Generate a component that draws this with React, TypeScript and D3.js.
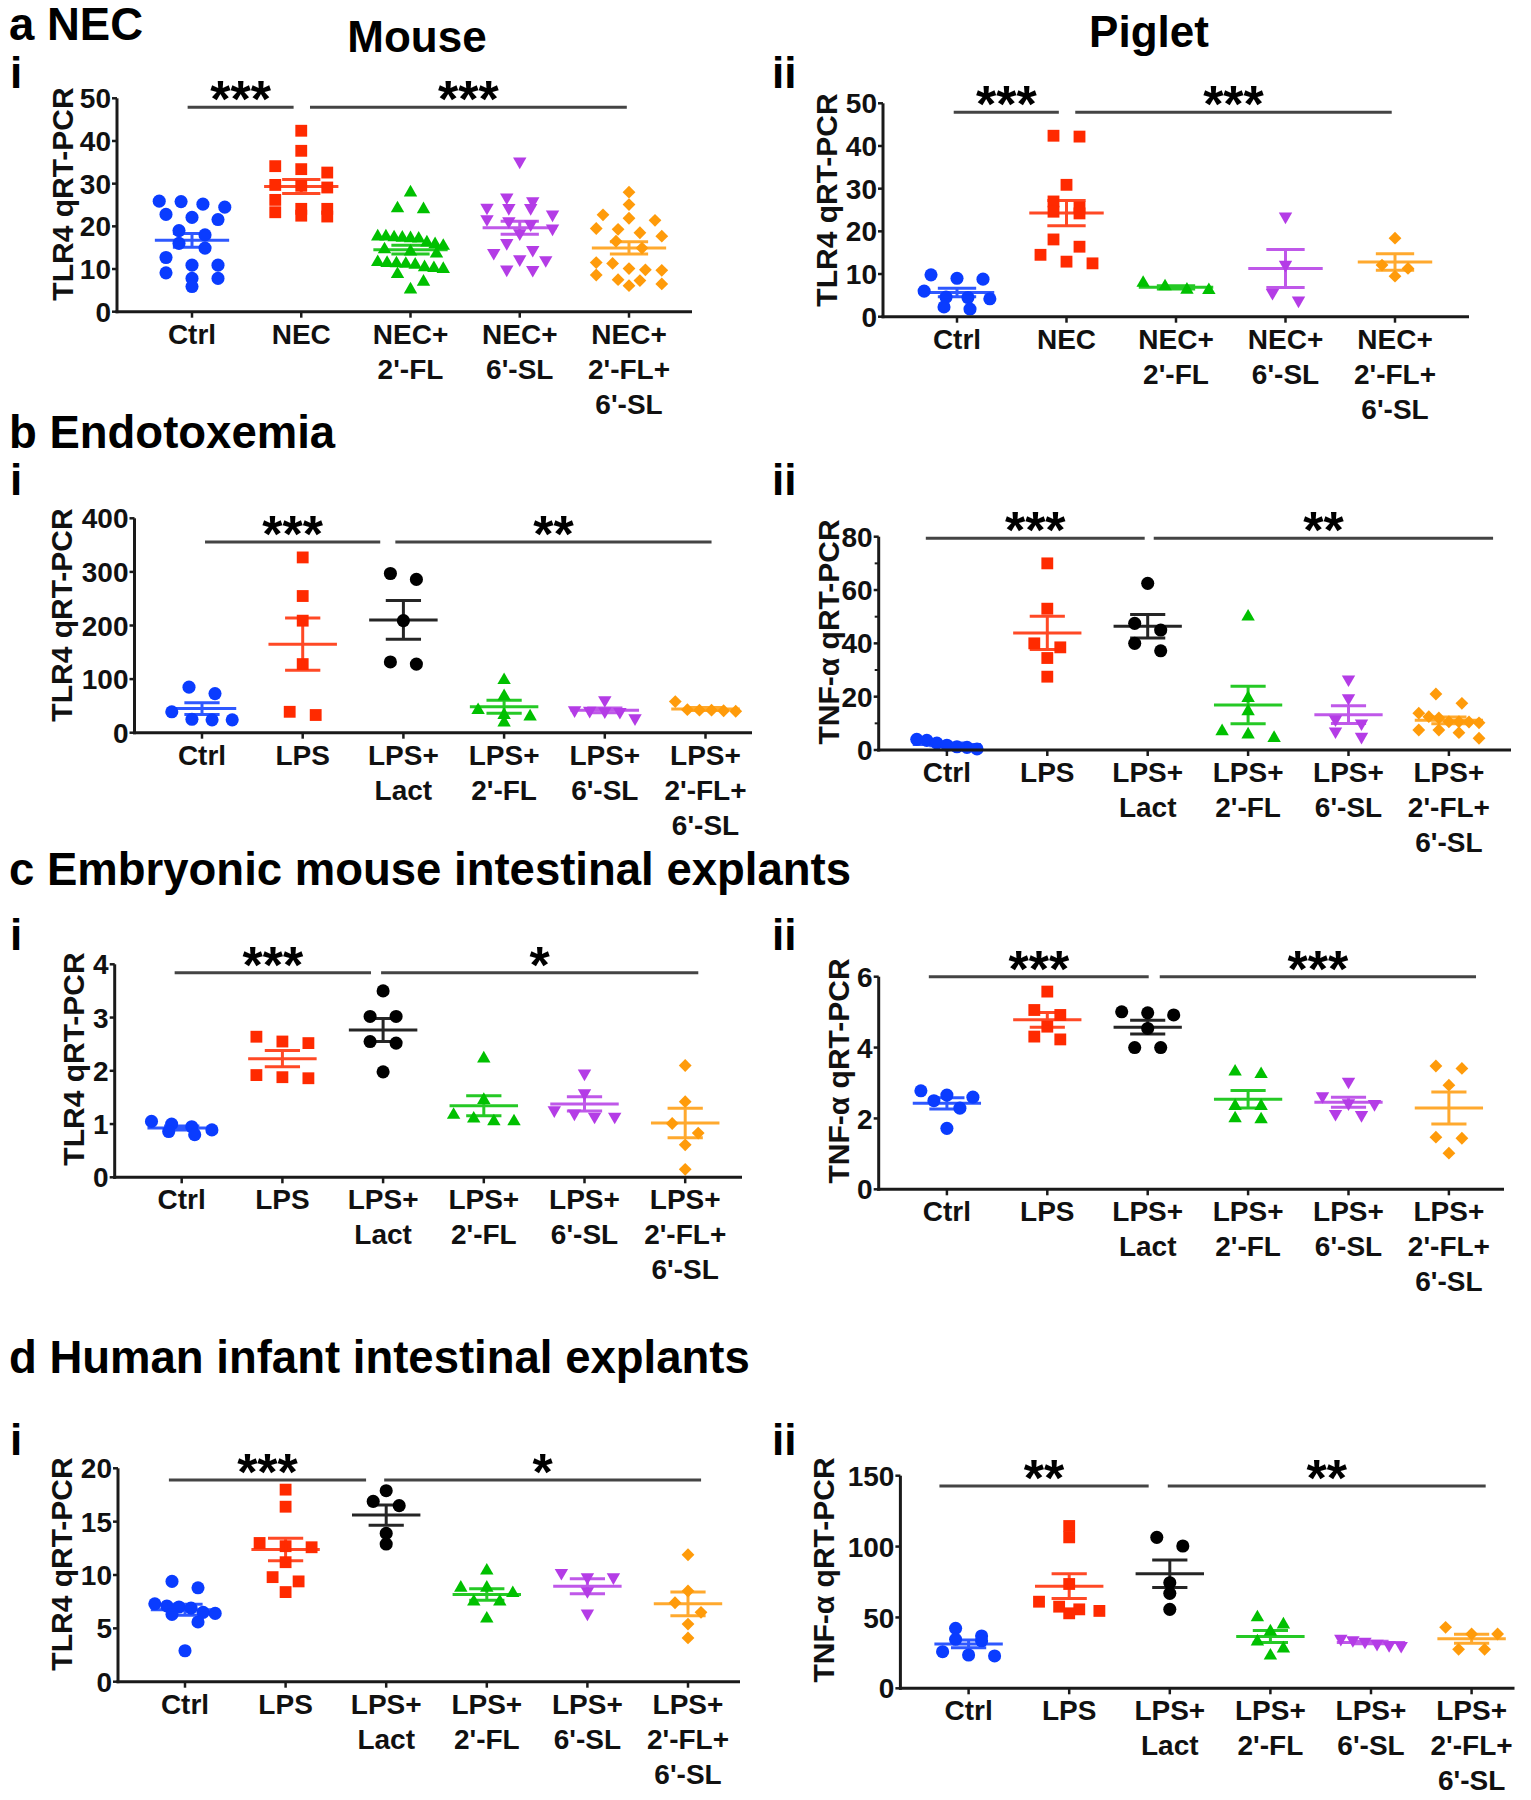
import React from "react";
import * as d3 from "d3";

const FONT = "'Liberation Sans', Arial, Helvetica, sans-serif";

// ---------- categories ----------
const catsNEC = ["Ctrl", "NEC", "NEC+\n2'-FL", "NEC+\n6'-SL", "NEC+\n2'-FL+\n6'-SL"];
const catsLPS = ["Ctrl", "LPS", "LPS+\nLact", "LPS+\n2'-FL", "LPS+\n6'-SL", "LPS+\n2'-FL+\n6'-SL"];

// ---------- a-i: Mouse NEC, TLR4 ----------
const mouseCtrl = [25.8, 25.9, 24.5, 25.2, 21.6, 22.8, 22.1, 18.0, 19.0, 14.9, 16.0, 12.7, 10.9, 10.9, 9.1, 7.8, 7.8, 5.9];
const mouseNEC = [42.4, 37.7, 34.1, 33.4, 32.6, 29.1, 29.7, 29.5, 26.2, 24.1, 23.3, 24.1, 22.5, 22.3];
const mouse2FL = [27.9, 24.0, 24.2, 17.6, 17.3, 17.1, 17.6, 17.2, 17.4, 16.2, 15.8, 15.4, 14.6, 14.1, 13.6, 11.6, 11.3, 11.0, 11.4, 11.2, 10.2, 10.0, 10.4, 8.8, 7.0, 5.2];
const mouse6SL = [35.2, 26.8, 24.3, 24.3, 24.4, 25.9, 22.8, 21.7, 20.5, 21.2, 19.5, 18.4, 16.1, 14.5, 13.8, 12.1, 12.3, 9.9, 9.8];
const mouseCombo = [28.0, 25.1, 22.7, 21.9, 21.4, 19.3, 19.5, 18.5, 17.7, 16.5, 14.9, 11.5, 11.3, 9.7, 9.8, 10.1, 8.6, 7.3, 7.5, 6.5, 6.1];

// ---------- a-ii: Piglet NEC, TLR4 ----------
const pigCtrl = [9.0, 9.8, 8.8, 6.0, 4.5, 4.6, 4.2, 1.8, 2.3];
const pigNEC = [42.2, 42.4, 30.9, 27.0, 24.2, 24.6, 25.6, 18.1, 16.4, 14.5, 12.5, 12.9];
const pig2FL = [6.2, 7.9, 6.3, 7.1];
const pig6SL = [23.5, 12.2, 5.6, 3.8];
const pigCombo = [18.4, 12.1, 11.3, 9.5];

// ---------- b-i: Endotoxemia, TLR4 ----------
const endoTlrCtrl = [73, 85, 24, 39, 24, 25];
const endoTlrLPS = [327, 255, 209, 128, 33, 39];
const endoTlrLact = [286, 297, 209, 128, 132];
const endoTlr2FL = [98, 68, 42, 30, 19, 33];
const endoTlr6SL = [39, 40, 41, 42, 61, 27];
const endoTlrCombo = [58, 42, 43, 41, 40, 42];

// ---------- b-ii: Endotoxemia, TNF-a ----------
const endoTnfCtrl = [1.2, 4.0, 1.0, 3.6, 0.4, 2.6, 1.8];
const endoTnfLPS = [70, 53, 40, 38.5, 34.5, 27.5];
const endoTnfLact = [62.5, 45, 47.5, 40, 37.2];
const endoTnf2FL = [50, 19.5, 14.5, 7, 4.5, 5.8];
const endoTnf6SL = [26.5, 19.5, 11.5, 10, 5, 7];
const endoTnfCombo = [21, 17.5, 13.8, 12.5, 12, 10.6, 10.6, 10.5, 10.2, 7.5, 7.5, 6.5, 4.4];

// ---------- c-i: Embryonic explants, TLR4 ----------
const embTlrCtrl = [0.86, 1.0, 0.89, 0.95, 1.05, 0.8];
const embTlrLPS = [2.64, 2.52, 2.55, 1.86, 1.92, 1.88];
const embTlrLact = [3.5, 3.02, 3.02, 2.52, 2.55, 1.98];
const embTlr2FL = [2.23, 1.45, 1.05, 1.17, 1.05, 1.1];
const embTlr6SL = [1.95, 1.58, 1.14, 1.2, 1.14, 1.26];
const embTlrCombo = [2.1, 1.42, 1.01, 0.83, 0.61, 0.15];

// ---------- c-ii: Embryonic explants, TNF-a ----------
const embTnfCtrl = [2.66, 2.78, 2.6, 2.5, 2.29, 1.72];
const embTnfLPS = [5.58, 5.06, 4.92, 4.59, 4.23, 4.31];
const embTnfLact = [4.92, 5.01, 4.98, 4.54, 4.0, 4.0];
const embTnf2FL = [3.25, 3.32, 2.35, 2.35, 1.97, 2.0];
const embTnf6SL = [3.04, 2.63, 2.43, 2.41, 2.1, 2.13];
const embTnfCombo = [3.41, 3.48, 2.94, 1.44, 1.47, 1.02];

// ---------- d-i: Human infant explants, TLR4 ----------
const humTlrCtrl = [8.8, 9.4, 7.0, 7.3, 6.9, 6.4, 6.5, 7.1, 5.6, 2.9, 6.3];
const humTlrLPS = [18.0, 16.4, 12.6, 12.7, 13.0, 11.2, 9.8, 9.4, 8.4];
const humTlrLact = [17.9, 16.9, 16.5, 13.9, 12.9];
const humTlr2FL = [10.4, 8.8, 8.8, 8.3, 7.5, 7.5, 5.9];
const humTlr6SL = [9.8, 10.2, 9.8, 8.5, 6.4];
const humTlrCombo = [11.9, 8.5, 7.4, 6.5, 5.4, 4.1];

// ---------- d-ii: Human infant explants, TNF-a ----------
const humTnfCtrl = [42.3, 34.6, 33.5, 36.9, 23.5, 25.8, 22.8];
const humTnfLPS = [114.5, 106.5, 73.6, 61.1, 55.7, 54.6, 57.6, 52.9];
const humTnfLact = [106.5, 100.4, 74.5, 67, 55.7];
const humTnf2FL = [50, 45, 40, 33, 28, 23];
const humTnf6SL = [30, 35, 33, 34, 30.5, 31.5];
const humTnfCombo = [43, 38.3, 38.3, 27.5, 27.5];

// ---------- tick values ----------
const ticks50 = [0, 10, 20, 30, 40, 50];
const ticks400 = [0, 100, 200, 300, 400];
const ticks80 = [0, 20, 40, 60, 80];
const minor80 = [10, 30, 50, 70];
const ticks4 = [0, 1, 2, 3, 4];
const ticks6 = [0, 2, 4, 6];
const ticks20 = [0, 5, 10, 15, 20];
const ticks150 = [0, 50, 100, 150];

// ---------- styles ----------
const BLUE = "#0a3cff", RED = "#ff2a00", GREEN = "#00c000", PURPLE = "#b43ce6", ORANGE = "#ff9b0a", BLACK = "#000000";
const styleNEC = [
  { color: BLUE, shape: "circle" },
  { color: RED, shape: "square" },
  { color: GREEN, shape: "triangle" },
  { color: PURPLE, shape: "triDown" },
  { color: ORANGE, shape: "diamond" },
];
const styleLPS = [
  { color: BLUE, shape: "circle" },
  { color: RED, shape: "square" },
  { color: BLACK, shape: "circle" },
  { color: GREEN, shape: "triangle" },
  { color: PURPLE, shape: "triDown" },
  { color: ORANGE, shape: "diamond" },
];

const panels = [
  {
    key: "ai", cats: catsNEC, style: styleNEC, yTitle: "TLR4 qRT-PCR",
    groups: [mouseCtrl, mouseNEC, mouse2FL, mouse6SL, mouseCombo],
    domain: [0, 50], ticks: ticks50, minor: [],
    L: { axisX: 117, axisEnd: 692, y0: 311.7, yTop: 98.3, xFirst: 192, xLast: 629, tX: 62, tY: 194 },
    sig: [{ from: -0.04, to: 0.93, y: 47.9, label: "***" }, { from: 1.08, to: 3.98, y: 47.9, label: "***" }],
  },
  {
    key: "aii", cats: catsNEC, style: styleNEC, yTitle: "TLR4 qRT-PCR",
    groups: [pigCtrl, pigNEC, pig2FL, pig6SL, pigCombo],
    domain: [0, 50], ticks: ticks50, minor: [],
    L: { axisX: 883, axisEnd: 1469, y0: 316.7, yTop: 103.3, xFirst: 957, xLast: 1395, tX: 826, tY: 200 },
    sig: [{ from: -0.03, to: 0.93, y: 47.9, label: "***" }, { from: 1.08, to: 3.97, y: 47.9, label: "***" }],
  },
  {
    key: "bi", cats: catsLPS, style: styleLPS, yTitle: "TLR4 qRT-PCR",
    groups: [endoTlrCtrl, endoTlrLPS, endoTlrLact, endoTlr2FL, endoTlr6SL, endoTlrCombo],
    domain: [0, 400], ticks: ticks400, minor: [],
    L: { axisX: 134.5, axisEnd: 752, y0: 732.7, yTop: 518.3, xFirst: 202, xLast: 705.5, tX: 61, tY: 615 },
    sig: [{ from: 0.03, to: 1.77, y: 356, label: "***" }, { from: 1.92, to: 5.06, y: 356, label: "**" }],
  },
  {
    key: "bii", cats: catsLPS, style: styleLPS, yTitle: "TNF-\u03b1 qRT-PCR",
    groups: [endoTnfCtrl, endoTnfLPS, endoTnfLact, endoTnf2FL, endoTnf6SL, endoTnfCombo],
    domain: [0, 80], ticks: ticks80, minor: minor80,
    L: { axisX: 878.7, axisEnd: 1511, y0: 750, yTop: 536.7, xFirst: 946.9, xLast: 1448.9, tX: 828, tY: 632 },
    sig: [{ from: -0.21, to: 1.97, y: 79.4, label: "***" }, { from: 2.06, to: 5.44, y: 79.4, label: "**" }],
  },
  {
    key: "ci", cats: catsLPS, style: styleLPS, yTitle: "TLR4 qRT-PCR",
    groups: [embTlrCtrl, embTlrLPS, embTlrLact, embTlr2FL, embTlr6SL, embTlrCombo],
    domain: [0, 4], ticks: ticks4, minor: [],
    L: { axisX: 114.7, axisEnd: 742, y0: 1177.3, yTop: 964.3, xFirst: 181.7, xLast: 685.2, tX: 73, tY: 1059 },
    sig: [{ from: -0.07, to: 1.88, y: 3.84, label: "***" }, { from: 1.98, to: 5.13, y: 3.84, label: "*" }],
  },
  {
    key: "cii", cats: catsLPS, style: styleLPS, yTitle: "TNF-\u03b1 qRT-PCR",
    groups: [embTnfCtrl, embTnfLPS, embTnfLact, embTnf2FL, embTnf6SL, embTnfCombo],
    domain: [0, 6], ticks: ticks6, minor: [],
    L: { axisX: 878.7, axisEnd: 1504, y0: 1189.3, yTop: 976.7, xFirst: 946.9, xLast: 1448.9, tX: 838, tY: 1071 },
    sig: [{ from: -0.18, to: 2.01, y: 6.0, label: "***" }, { from: 2.12, to: 5.27, y: 6.0, label: "***" }],
  },
  {
    key: "di", cats: catsLPS, style: styleLPS, yTitle: "TLR4 qRT-PCR",
    groups: [humTlrCtrl, humTlrLPS, humTlrLact, humTlr2FL, humTlr6SL, humTlrCombo],
    domain: [0, 20], ticks: ticks20, minor: [],
    L: { axisX: 118, axisEnd: 740, y0: 1681.7, yTop: 1468.3, xFirst: 185, xLast: 688, tX: 61, tY: 1564 },
    sig: [{ from: -0.16, to: 1.8, y: 18.9, label: "***" }, { from: 1.98, to: 5.13, y: 18.9, label: "*" }],
  },
  {
    key: "dii", cats: catsLPS, style: styleLPS, yTitle: "TNF-\u03b1 qRT-PCR",
    groups: [humTnfCtrl, humTnfLPS, humTnfLact, humTnf2FL, humTnf6SL, humTnfCombo],
    domain: [0, 150], ticks: ticks150, minor: [],
    L: { axisX: 900.4, axisEnd: 1514.5, y0: 1688.3, yTop: 1475.7, xFirst: 968.6, xLast: 1471.6, tX: 823, tY: 1570 },
    sig: [{ from: -0.29, to: 1.79, y: 142.7, label: "**" }, { from: 1.98, to: 5.14, y: 142.7, label: "**" }],
  },
];

const headings = [
  { text: "a NEC", x: 9, y: 40, anchor: "start", size: 45.5 },
  { text: "Mouse", x: 417, y: 52, anchor: "middle", size: 44 },
  { text: "Piglet", x: 1149, y: 47, anchor: "middle", size: 44 },
  { text: "i", x: 10, y: 88, anchor: "start", size: 44 },
  { text: "ii", x: 772, y: 88, anchor: "start", size: 44 },
  { text: "b Endotoxemia", x: 9, y: 448, anchor: "start", size: 45.5 },
  { text: "i", x: 10, y: 495, anchor: "start", size: 44 },
  { text: "ii", x: 772, y: 495, anchor: "start", size: 44 },
  { text: "c Embryonic mouse intestinal explants", x: 9, y: 885, anchor: "start", size: 45.5 },
  { text: "i", x: 10, y: 950, anchor: "start", size: 44 },
  { text: "ii", x: 772, y: 950, anchor: "start", size: 44 },
  { text: "d Human infant intestinal explants", x: 9, y: 1373, anchor: "start", size: 45.5 },
  { text: "i", x: 10, y: 1455, anchor: "start", size: 44 },
  { text: "ii", x: 772, y: 1455, anchor: "start", size: 44 },
];

const MARK = 13;

const symbolPaths = {
  circle: { d: d3.symbol(d3.symbolCircle, 135)(), rot: 0 },
  square: { d: d3.symbol(d3.symbolSquare, 140)(), rot: 0 },
  triangle: { d: d3.symbol(d3.symbolTriangle, 78)(), rot: 0 },
  triDown: { d: d3.symbol(d3.symbolTriangle, 78)(), rot: 180 },
  diamond: { d: d3.symbol(d3.symbolSquare, 82)(), rot: 45 },
};

function swarm(values: number[], cx: number, y: (v: number) => number, band: number) {
  const pts = values.map((v) => ({ v, py: y(v) })).sort((a, b) => a.py - b.py);
  const rows: { v: number; py: number }[][] = [];
  let cur: { v: number; py: number }[] | null = null;
  for (const p of pts) {
    if (cur && p.py - cur[0].py < MARK * 0.75) cur.push(p);
    else {
      cur = [p];
      rows.push(cur);
    }
  }
  const out: { v: number; px: number; py: number }[] = [];
  const maxW = band * 0.6;
  rows.forEach((r) => {
    const n = r.length;
    const step = n > 1 ? Math.min(MARK * 2, maxW / (n - 1)) : 0;
    r.forEach((p, i) => out.push({ v: p.v, px: cx + (i - (n - 1) / 2) * step, py: p.py }));
  });
  return out;
}

function Panel({ p }: { p: any }) {
  const L = p.L;
  const y = d3.scaleLinear().domain(p.domain).range([L.y0, L.yTop]);
  const x = d3.scalePoint<string>().domain(p.cats).range([L.xFirst, L.xLast]);
  const xi = d3.scaleLinear().domain([0, p.cats.length - 1]).range([L.xFirst, L.xLast]);
  const band = x.step();
  const meanW = band * 0.34;
  const capW = band * 0.175;
  const axisCol = "#1a1a1a";
  return (
    <g>
      {p.groups.map((vals: number[], gi: number) => {
        const st = p.style[gi];
        const sp = symbolPaths[st.shape as keyof typeof symbolPaths];
        const cx = x(p.cats[gi]) as number;
        return swarm(vals, cx, y, band).map((pt, k) => (
          <path
            key={`p${gi}-${k}`}
            d={sp.d as string}
            transform={`translate(${pt.px},${pt.py}) rotate(${sp.rot})`}
            fill={st.color}
          />
        ));
      })}
      {p.groups.map((vals: number[], gi: number) => {
        const st = p.style[gi];
        const cx = x(p.cats[gi]) as number;
        const m = d3.mean(vals) as number;
        const sem = (d3.deviation(vals) as number) / Math.sqrt(vals.length);
        const col = st.color;
        return (
          <g key={`m${gi}`} stroke={col} strokeWidth={3} opacity={0.85}>
            <line x1={cx - meanW} x2={cx + meanW} y1={y(m)} y2={y(m)} />
            <line x1={cx} x2={cx} y1={y(m - sem)} y2={y(m + sem)} />
            <line x1={cx - capW} x2={cx + capW} y1={y(m + sem)} y2={y(m + sem)} />
            <line x1={cx - capW} x2={cx + capW} y1={y(m - sem)} y2={y(m - sem)} />
          </g>
        );
      })}
      <line x1={L.axisX} x2={L.axisX} y1={L.y0 + 1.5} y2={L.yTop} stroke={axisCol} strokeWidth={3} />
      <line x1={L.axisX - 1.5} x2={L.axisEnd} y1={L.y0} y2={L.y0} stroke={axisCol} strokeWidth={3} />
      {p.ticks.map((t: number) => (
        <g key={`t${t}`}>
          <line x1={L.axisX - 5} x2={L.axisX} y1={y(t)} y2={y(t)} stroke={axisCol} strokeWidth={2.5} />
          <text
            x={L.axisX - 6}
            y={y(t)}
            dy="0.36em"
            textAnchor="end"
            fontFamily={FONT}
            fontWeight="bold"
            fontSize={28}
            fill="#111"
          >
            {t}
          </text>
        </g>
      ))}
      {p.minor.map((t: number) => (
        <line key={`mn${t}`} x1={L.axisX - 4} x2={L.axisX} y1={y(t)} y2={y(t)} stroke={axisCol} strokeWidth={2} />
      ))}
      {p.cats.map((c: string, ci: number) => {
        const cx = x(c) as number;
        return (
          <g key={`c${ci}`}>
            <line x1={cx} x2={cx} y1={L.y0} y2={L.y0 + 6} stroke={axisCol} strokeWidth={2.5} />
            <text textAnchor="middle" fontFamily={FONT} fontWeight="bold" fontSize={28} fill="#111">
              {c.split("\n").map((ln, li) => (
                <tspan key={li} x={cx} y={L.y0 + 32 + li * 35}>
                  {ln}
                </tspan>
              ))}
            </text>
          </g>
        );
      })}
      <text
        transform={`translate(${L.tX},${L.tY}) rotate(-90)`}
        textAnchor="middle"
        dy="0.36em"
        fontFamily={FONT}
        fontWeight="bold"
        fontSize={30}
        fill="#111"
      >
        {p.yTitle}
      </text>
      {p.sig.map((s: any, si: number) => {
        const x1 = xi(s.from), x2 = xi(s.to), yy = y(s.y);
        return (
          <g key={`s${si}`}>
            <line x1={x1} x2={x2} y1={yy} y2={yy} stroke="#444" strokeWidth={3} />
            <text
              x={(x1 + x2) / 2}
              y={yy + 10}
              textAnchor="middle"
              fontFamily={FONT}
              fontWeight="bold"
              fontSize={52}
              fill="#000"
            >
              {s.label}
            </text>
          </g>
        );
      })}
    </g>
  );
}

export default function App() {
  return (
    <svg
      width={1531}
      height={1800}
      style={{ position: "absolute", left: 0, top: 0, background: "#fff" }}
    >
      <rect x={0} y={0} width={1531} height={1800} fill="#fff" />
      {headings.map((h, i) => (
        <text
          key={i}
          x={h.x}
          y={h.y}
          textAnchor={h.anchor}
          fontFamily={FONT}
          fontWeight="bold"
          fontSize={h.size}
          fill="#000"
        >
          {h.text}
        </text>
      ))}
      {panels.map((p) => (
        <Panel key={p.key} p={p} />
      ))}
    </svg>
  );
}
